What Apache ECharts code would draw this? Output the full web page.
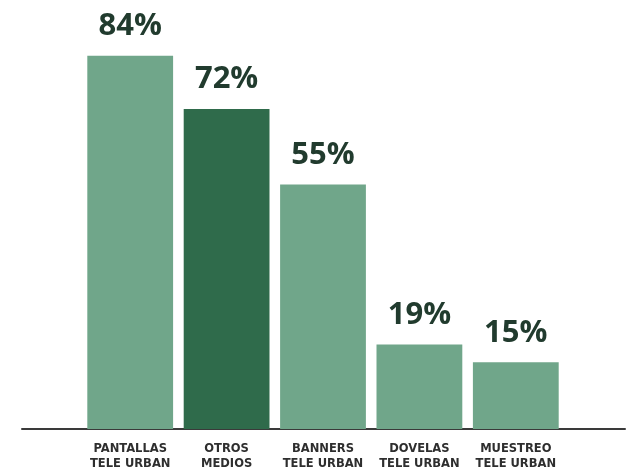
<!DOCTYPE html>
<html>
<head>
<meta charset="utf-8">
<script src="https://cdn.jsdelivr.net/npm/echarts@6/dist/echarts.min.js"></script>
<style>
html,body{margin:0;padding:0;background:#fff;}
#c{width:629px;height:476px;}
</style>
</head>
<body>
<div id="c"></div>
<script>
const categories = ['PANTALLAS\nTELE URBAN', 'OTROS\nMEDIOS', 'BANNERS\nTELE URBAN', 'DOVELAS\nTELE URBAN', 'MUESTREO\nTELE URBAN'];
const values = [84, 72, 55, 19, 15];
const barColors = ['#70a68a', '#2f6b4b', '#70a68a', '#70a68a', '#70a68a'];

const chart = echarts.init(document.getElementById('c'), null, {renderer: 'canvas'});
chart.setOption({
  backgroundColor: '#ffffff',
  animation: false,
  grid: [
    {left: 82, right: 65, top: 29, bottom: 47},
    {left: 22, right: 4, top: 400, bottom: 47}
  ],
  xAxis: [
    {
      type: 'category', gridIndex: 0, data: categories,
      axisLine: {show: false}, axisTick: {show: false},
      axisLabel: {
        interval: 0, margin: 12,
        fontFamily: '"DejaVu Sans Condensed", "Liberation Sans Narrow", sans-serif',
        fontWeight: 'bold', fontSize: 12.8, lineHeight: 15, color: '#2e2e2e'
      }
    },
    {
      type: 'value', gridIndex: 1, min: 0, max: 1, position: 'bottom',
      axisLine: {show: true, onZero: false, lineStyle: {color: '#3a3a3a', width: 2}},
      axisTick: {show: false}, axisLabel: {show: false}, splitLine: {show: false}
    }
  ],
  yAxis: [
    {type: 'value', gridIndex: 0, min: 0, max: 90, show: false},
    {type: 'value', gridIndex: 1, min: 0, max: 1, show: false}
  ],
  series: [{
    type: 'bar', xAxisIndex: 0, yAxisIndex: 0,
    barCategoryGap: '11%',
    data: values.map((v, i) => ({value: v, itemStyle: {color: barColors[i]}})),
    label: {
      show: true, position: 'top', distance: 14,
      formatter: '{c}%',
      fontFamily: '"Open Sans", sans-serif', fontWeight: 'bold', fontSize: 31,
      color: '#213b2e'
    }
  }]
});
</script>
</body>
</html>
